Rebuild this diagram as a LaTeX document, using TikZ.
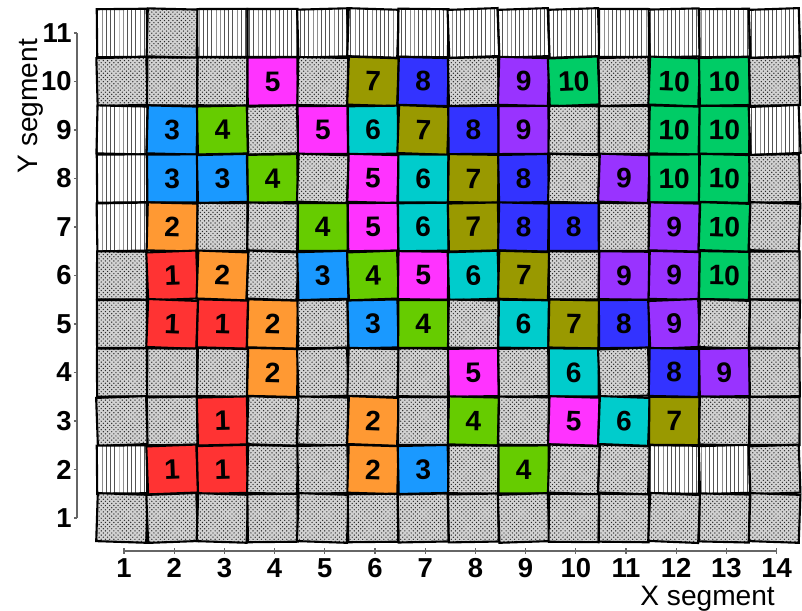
\documentclass[tikz,border=0pt]{standalone}
\usepackage{fontspec}
\setmainfont{Liberation Sans}
\usetikzlibrary{patterns}

\definecolor{seg1}{RGB}{255,51,51}
\definecolor{seg2}{RGB}{255,153,51}
\definecolor{seg3}{RGB}{26,153,255}
\definecolor{seg4}{RGB}{102,204,0}
\definecolor{seg5}{RGB}{255,51,255}
\definecolor{seg6}{RGB}{0,204,204}
\definecolor{seg7}{RGB}{153,153,0}
\definecolor{seg8}{RGB}{51,51,255}
\definecolor{seg9}{RGB}{153,51,255}
\definecolor{seg10}{RGB}{0,204,102}

% prints the number, nothing for a letter code
\newcommand\segnum[1]{\ifcat a#1\else#1\fi}

\tikzset{
  cell/.style={draw,line width=1.5pt,minimum width=1.25cm,minimum height=1.2cm,inner sep=0pt,
    font=\fontsize{20}{22}\selectfont\bfseries},
  lined/.style={cell,preaction={fill=white},pattern=vertical lines,pattern color=gray!65!black},
  speckled/.style={cell,preaction={fill=gray!35},pattern=crosshatch dots,pattern color=gray!30!black},
  code-s/.style={lined},
  code-d/.style={speckled},
  code-1/.style={cell,fill=seg1},
  code-2/.style={cell,fill=seg2},
  code-3/.style={cell,fill=seg3},
  code-4/.style={cell,fill=seg4},
  code-5/.style={cell,fill=seg5},
  code-6/.style={cell,fill=seg6},
  code-7/.style={cell,fill=seg7},
  code-8/.style={cell,fill=seg8},
  code-9/.style={cell,fill=seg9},
  code-10/.style={cell,fill=seg10},
  axisline/.style={draw=gray!80!black,line width=0.9pt},
  ticklabel/.style={font=\fontsize{19.5}{22}\selectfont\bfseries,inner sep=0pt},
  axistitle/.style={font=\fontsize{20}{22}\selectfont,inner sep=0pt}
}

\begin{document}
\begin{tikzpicture}[x=1.255cm,y=1.2125cm]
  \useasboundingbox (-1.470,-0.918) rectangle (14.506,11.680);

  % tiles, one list per row (s = lines, d = dots)
  \pgfmathsetseed{42}
  \begin{scope}[xshift=-0.05cm]
    \foreach \row/\cells in {
      11/{s,d,s,s,s,s,s,s,s,s,s,s,s,s},
      10/{d,d,d,5,d,7,8,d,9,10,d,10,10,d},
      9/{s,3,4,d,5,6,7,8,9,d,d,10,10,s},
      8/{s,3,3,4,d,5,6,7,8,d,9,10,10,d},
      7/{s,2,d,d,4,5,6,7,8,8,d,9,10,d},
      6/{d,1,2,d,3,4,5,6,7,d,9,9,10,d},
      5/{d,1,1,2,d,3,4,d,6,7,8,9,d,d},
      4/{d,d,d,2,d,d,d,5,d,6,d,8,9,d},
      3/{d,d,1,d,d,2,d,4,d,5,6,7,d,d},
      2/{s,1,1,d,d,2,3,d,4,d,d,s,s,d},
      1/{d,d,d,d,d,d,d,d,d,d,d,d,d,d}}
      \foreach \v [count=\col] in \cells {
        \pgfmathsetmacro\tilt{2.4*rand}
        \node[code-\v,rotate=\tilt] (t\col-\row) at (\col,\row) {\segnum{\v}};
      }
  \end{scope}

  % x axis
  \coordinate (xa) at (1,0.32);
  \coordinate (xb) at (14,0.32);
  \draw[axisline] (xa) -- (xb);
  \foreach \c in {1,...,14} {
    \draw[axisline] (\c,0.26) -- (\c,0.38);
    \node[ticklabel] (xl\c) at (\c,-0.04) {\c};
  }
  \node[axistitle,anchor=base east] (xtitle) at (13.97,-0.81) {X segment};

  % y axis
  \coordinate (ya) at (0.064,1);
  \coordinate (yb) at (0.064,11);
  \draw[axisline] (ya) -- (yb);
  \foreach \r in {1,...,11} {
    \draw[axisline] (0.004,\r) -- (0.064,\r);
    \node[ticklabel,anchor=east] (yl\r) at (-0.036,\r) {\r};
  }
  \node[axistitle,rotate=90] (ytitle) at (-0.853,9.49) {Y segment};
\end{tikzpicture}
\end{document}
